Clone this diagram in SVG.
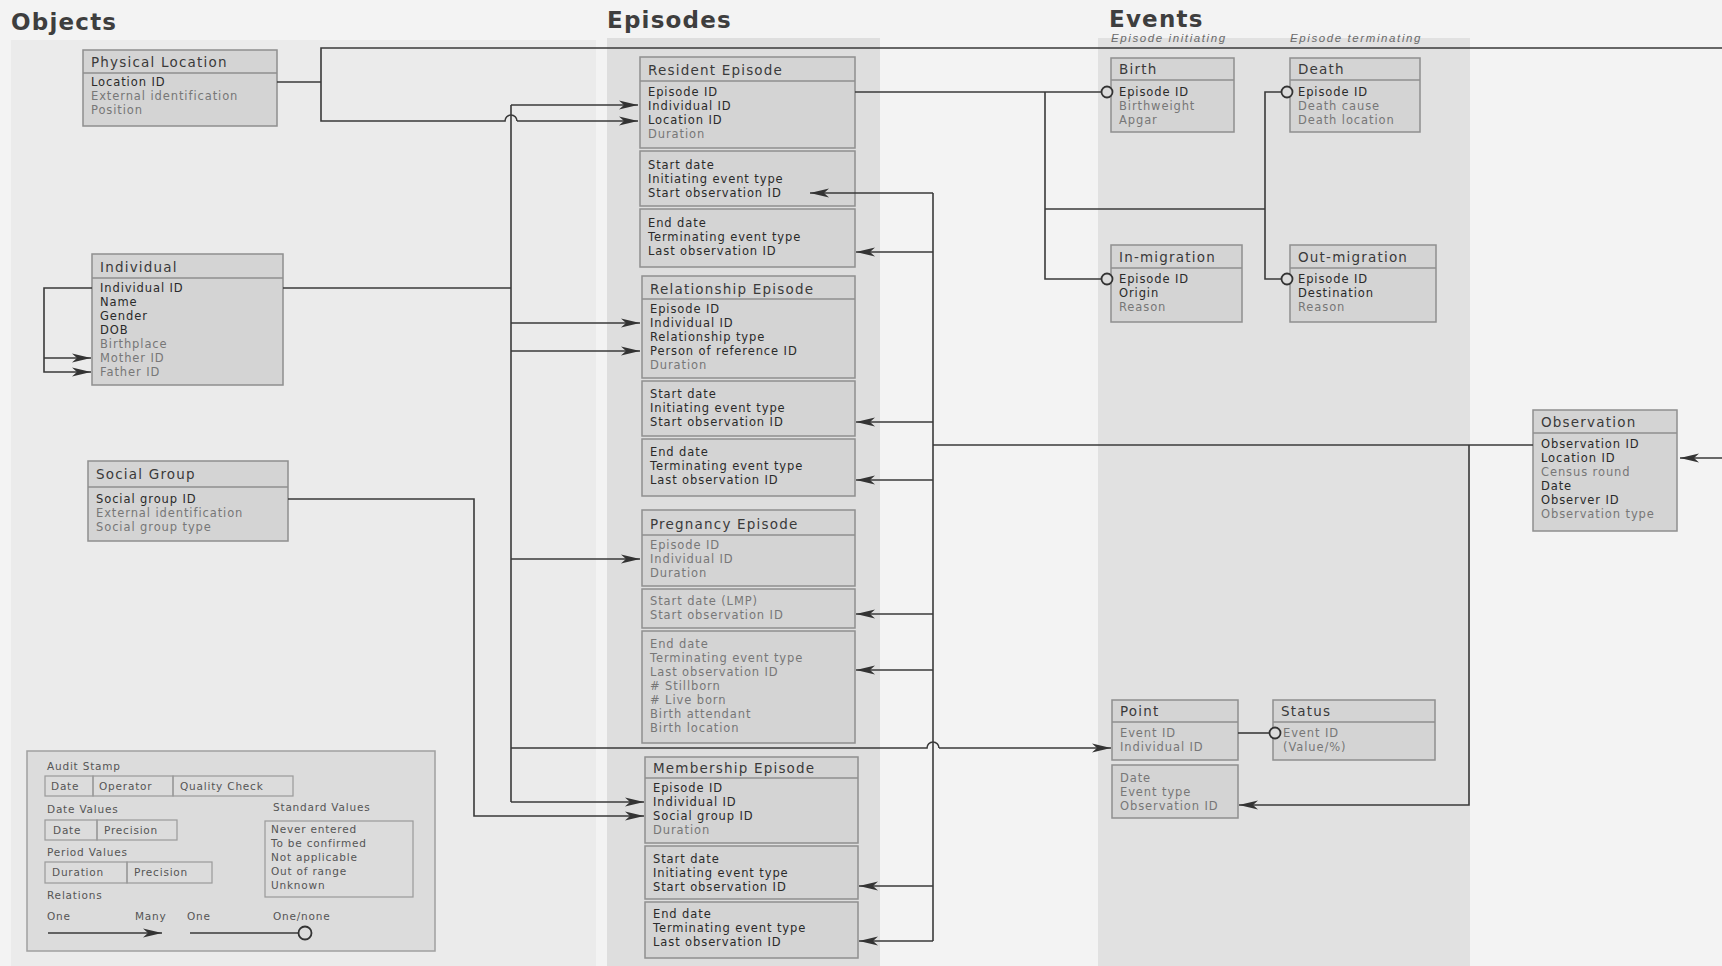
<svg xmlns="http://www.w3.org/2000/svg" width="1722" height="966" viewBox="0 0 1722 966">
<defs>
<marker id="arr" markerUnits="userSpaceOnUse" markerWidth="20" markerHeight="12" refX="19" refY="6" orient="auto">
<path d="M0,1.5 L19,6 L0,10.5 L5,6 z" fill="#333"/>
</marker>
<style>
text{font-family:"DejaVu Sans","Liberation Sans",sans-serif}
.ttl{font-size:23px;font-weight:bold;fill:#3e3e3e;letter-spacing:1.2px}
.sub{font-family:"Liberation Sans",sans-serif;font-size:11.5px;font-style:italic;fill:#6a6a6a;letter-spacing:1.6px}
.box{fill:#d4d4d4;stroke:#8f8f8f;stroke-width:1.5}
.div{stroke:#8f8f8f;stroke-width:1.5}
.hd{font-size:13.5px;fill:#3a3a3a;letter-spacing:1.2px}
.k{font-size:11.5px;fill:#2a2a2a;letter-spacing:0.9px}
.a{font-size:11.5px;fill:#777;letter-spacing:0.9px}
.lg{font-size:10.5px;fill:#555;letter-spacing:0.8px}
.lb{fill:none;stroke:#9a9a9a;stroke-width:1.2}
.ln{fill:none;stroke:#3a3a3a;stroke-width:1.6}
.ar{fill:none;stroke:#3a3a3a;stroke-width:1.6;marker-end:url(#arr)}
.cir{fill:#dcdcdc;stroke:#333;stroke-width:1.8}
</style>
</defs>
<rect x="0" y="0" width="1722" height="966" fill="#f3f3f3"/>
<rect x="11" y="40" width="585" height="926" fill="#ebebeb"/>
<rect x="607" y="38" width="273" height="928" fill="#dedede"/>
<rect x="1098" y="38" width="372" height="928" fill="#e1e1e1"/>

<g id="titles">
<text class="ttl" x="11" y="30">Objects</text>
<text class="ttl" x="607" y="28">Episodes</text>
<text class="ttl" x="1109" y="27">Events</text>
<text class="sub" x="1111" y="42">Episode initiating</text>
<text class="sub" x="1290" y="42">Episode terminating</text>
</g>

<g id="n-physloc">
<rect class="box" x="83" y="50" width="194" height="76"/>
<line class="div" x1="83" y1="73" x2="277" y2="73"/>
<text class="hd" x="91" y="67">Physical Location</text>
<text class="k" x="91" y="86">Location ID</text>
<text class="a" x="91" y="100">External identification</text>
<text class="a" x="91" y="114">Position</text>
</g>

<g id="n-individual">
<rect class="box" x="92" y="254" width="191" height="131"/>
<line class="div" x1="92" y1="278" x2="283" y2="278"/>
<text class="hd" x="100" y="272">Individual</text>
<text class="k" x="100" y="292">Individual ID</text>
<text class="k" x="100" y="306">Name</text>
<text class="k" x="100" y="320">Gender</text>
<text class="k" x="100" y="334">DOB</text>
<text class="a" x="100" y="348">Birthplace</text>
<text class="a" x="100" y="362">Mother ID</text>
<text class="a" x="100" y="376">Father ID</text>
</g>

<g id="n-social">
<rect class="box" x="88" y="461" width="200" height="80"/>
<line class="div" x1="88" y1="487" x2="288" y2="487"/>
<text class="hd" x="96" y="479">Social Group</text>
<text class="k" x="96" y="503">Social group ID</text>
<text class="a" x="96" y="517">External identification</text>
<text class="a" x="96" y="531">Social group type</text>
</g>

<g id="n-legend">
<rect x="27" y="751" width="408" height="200" fill="#dcdcdc" stroke="#a0a0a0" stroke-width="1.5"/>
<text class="lg" x="47" y="770">Audit Stamp</text>
<rect class="lb" x="45" y="776" width="48" height="20"/>
<rect class="lb" x="93" y="776" width="80" height="20"/>
<rect class="lb" x="173" y="776" width="120" height="20"/>
<text class="lg" x="51" y="790">Date</text>
<text class="lg" x="99" y="790">Operator</text>
<text class="lg" x="180" y="790">Quality Check</text>
<text class="lg" x="47" y="813">Date Values</text>
<rect class="lb" x="45" y="820" width="52" height="20"/>
<rect class="lb" x="97" y="820" width="80" height="20"/>
<text class="lg" x="53" y="834">Date</text>
<text class="lg" x="104" y="834">Precision</text>
<text class="lg" x="47" y="856">Period Values</text>
<rect class="lb" x="45" y="862" width="82" height="21"/>
<rect class="lb" x="127" y="862" width="85" height="21"/>
<text class="lg" x="52" y="876">Duration</text>
<text class="lg" x="134" y="876">Precision</text>
<text class="lg" x="47" y="899">Relations</text>
<text class="lg" x="47" y="920">One</text>
<text class="lg" x="135" y="920">Many</text>
<text class="lg" x="187" y="920">One</text>
<text class="lg" x="273" y="920">One/none</text>
<path class="ar" d="M48,933 H162"/>
<path class="ln" d="M190,933 H299"/>
<circle class="cir" cx="305" cy="933" r="6.5"/>
<text class="lg" x="273" y="811">Standard Values</text>
<rect class="lb" x="265" y="821" width="148" height="76"/>
<text class="lg" x="271" y="833">Never entered</text>
<text class="lg" x="271" y="847">To be confirmed</text>
<text class="lg" x="271" y="861">Not applicable</text>
<text class="lg" x="271" y="875">Out of range</text>
<text class="lg" x="271" y="889">Unknown</text>
</g>

<g id="n-resident">
<rect class="box" x="640" y="57" width="215" height="91"/>
<line class="div" x1="640" y1="81" x2="855" y2="81"/>
<text class="hd" x="648" y="75">Resident Episode</text>
<text class="k" x="648" y="96">Episode ID</text>
<text class="k" x="648" y="110">Individual ID</text>
<text class="k" x="648" y="124">Location ID</text>
<text class="a" x="648" y="138">Duration</text>
<rect class="box" x="640" y="151" width="215" height="55"/>
<text class="k" x="648" y="169">Start date</text>
<text class="k" x="648" y="183">Initiating event type</text>
<text class="k" x="648" y="197">Start observation ID</text>
<rect class="box" x="640" y="209" width="215" height="58"/>
<text class="k" x="648" y="227">End date</text>
<text class="k" x="648" y="241">Terminating event type</text>
<text class="k" x="648" y="255">Last observation ID</text>
</g>

<g id="n-relationship">
<rect class="box" x="642" y="276" width="213" height="102"/>
<line class="div" x1="642" y1="299" x2="855" y2="299"/>
<text class="hd" x="650" y="294">Relationship Episode</text>
<text class="k" x="650" y="313">Episode ID</text>
<text class="k" x="650" y="327">Individual ID</text>
<text class="k" x="650" y="341">Relationship type</text>
<text class="k" x="650" y="355">Person of reference ID</text>
<text class="a" x="650" y="369">Duration</text>
<rect class="box" x="642" y="381" width="213" height="55"/>
<text class="k" x="650" y="398">Start date</text>
<text class="k" x="650" y="412">Initiating event type</text>
<text class="k" x="650" y="426">Start observation ID</text>
<rect class="box" x="642" y="439" width="213" height="57"/>
<text class="k" x="650" y="456">End date</text>
<text class="k" x="650" y="470">Terminating event type</text>
<text class="k" x="650" y="484">Last observation ID</text>
</g>

<g id="n-pregnancy">
<rect class="box" x="642" y="510" width="213" height="76"/>
<line class="div" x1="642" y1="535" x2="855" y2="535"/>
<text class="hd" x="650" y="529">Pregnancy Episode</text>
<text class="a" x="650" y="549">Episode ID</text>
<text class="a" x="650" y="563">Individual ID</text>
<text class="a" x="650" y="577">Duration</text>
<rect class="box" x="642" y="589" width="213" height="39"/>
<text class="a" x="650" y="605">Start date (LMP)</text>
<text class="a" x="650" y="619">Start observation ID</text>
<rect class="box" x="642" y="631" width="213" height="112"/>
<text class="a" x="650" y="648">End date</text>
<text class="a" x="650" y="662">Terminating event type</text>
<text class="a" x="650" y="676">Last observation ID</text>
<text class="a" x="650" y="690"># Stillborn</text>
<text class="a" x="650" y="704"># Live born</text>
<text class="a" x="650" y="718">Birth attendant</text>
<text class="a" x="650" y="732">Birth location</text>
</g>

<g id="n-membership">
<rect class="box" x="645" y="757" width="213" height="86"/>
<line class="div" x1="645" y1="778" x2="858" y2="778"/>
<text class="hd" x="653" y="773">Membership Episode</text>
<text class="k" x="653" y="792">Episode ID</text>
<text class="k" x="653" y="806">Individual ID</text>
<text class="k" x="653" y="820">Social group ID</text>
<text class="a" x="653" y="834">Duration</text>
<rect class="box" x="645" y="846" width="213" height="53"/>
<text class="k" x="653" y="863">Start date</text>
<text class="k" x="653" y="877">Initiating event type</text>
<text class="k" x="653" y="891">Start observation ID</text>
<rect class="box" x="645" y="902" width="213" height="56"/>
<text class="k" x="653" y="918">End date</text>
<text class="k" x="653" y="932">Terminating event type</text>
<text class="k" x="653" y="946">Last observation ID</text>
</g>

<g id="n-birth">
<rect class="box" x="1111" y="58" width="123" height="74"/>
<line class="div" x1="1111" y1="80" x2="1234" y2="80"/>
<text class="hd" x="1119" y="74">Birth</text>
<text class="k" x="1119" y="96">Episode ID</text>
<text class="a" x="1119" y="110">Birthweight</text>
<text class="a" x="1119" y="124">Apgar</text>
<circle class="cir" cx="1107" cy="92" r="5.5"/>
</g>

<g id="n-death">
<rect class="box" x="1290" y="58" width="130" height="74"/>
<line class="div" x1="1290" y1="80" x2="1420" y2="80"/>
<text class="hd" x="1298" y="74">Death</text>
<text class="k" x="1298" y="96">Episode ID</text>
<text class="a" x="1298" y="110">Death cause</text>
<text class="a" x="1298" y="124">Death location</text>
<circle class="cir" cx="1287" cy="92" r="5.5"/>
</g>

<g id="n-inmig">
<rect class="box" x="1111" y="245" width="131" height="77"/>
<line class="div" x1="1111" y1="268" x2="1242" y2="268"/>
<text class="hd" x="1119" y="262">In-migration</text>
<text class="k" x="1119" y="283">Episode ID</text>
<text class="k" x="1119" y="297">Origin</text>
<text class="a" x="1119" y="311">Reason</text>
<circle class="cir" cx="1107" cy="279" r="5.5"/>
</g>

<g id="n-outmig">
<rect class="box" x="1290" y="245" width="146" height="77"/>
<line class="div" x1="1290" y1="268" x2="1436" y2="268"/>
<text class="hd" x="1298" y="262">Out-migration</text>
<text class="k" x="1298" y="283">Episode ID</text>
<text class="k" x="1298" y="297">Destination</text>
<text class="a" x="1298" y="311">Reason</text>
<circle class="cir" cx="1287" cy="279" r="5.5"/>
</g>

<g id="n-observation">
<rect class="box" x="1533" y="410" width="144" height="121"/>
<line class="div" x1="1533" y1="433" x2="1677" y2="433"/>
<text class="hd" x="1541" y="427">Observation</text>
<text class="k" x="1541" y="448">Observation ID</text>
<text class="k" x="1541" y="462">Location ID</text>
<text class="a" x="1541" y="476">Census round</text>
<text class="k" x="1541" y="490">Date</text>
<text class="k" x="1541" y="504">Observer ID</text>
<text class="a" x="1541" y="518">Observation type</text>
</g>

<g id="n-point">
<rect class="box" x="1112" y="700" width="126" height="60"/>
<line class="div" x1="1112" y1="722" x2="1238" y2="722"/>
<text class="hd" x="1120" y="716">Point</text>
<text class="a" x="1120" y="737">Event ID</text>
<text class="a" x="1120" y="751">Individual ID</text>
<rect class="box" x="1112" y="765" width="126" height="53"/>
<text class="a" x="1120" y="782">Date</text>
<text class="a" x="1120" y="796">Event type</text>
<text class="a" x="1120" y="810">Observation ID</text>
</g>

<g id="n-status">
<rect class="box" x="1273" y="700" width="162" height="60"/>
<line class="div" x1="1273" y1="722" x2="1435" y2="722"/>
<text class="hd" x="1281" y="716">Status</text>
<text class="a" x="1283" y="737">Event ID</text>
<text class="a" x="1283" y="751">(Value/%)</text>
<circle class="cir" cx="1275" cy="733" r="5.5"/>
</g>

<g id="connectors">
<path class="ln" d="M277,82 H321"/>
<path class="ln" d="M1722,48 H321 V121 H505 a6,6 0 0 1 12,0"/>
<path class="ar" d="M517,121 H638"/>
<path class="ar" d="M1722,458 H1680"/>
<path class="ar" d="M92,288 H44 V372 H91"/>
<path class="ar" d="M44,358 H91"/>
<path class="ln" d="M283,288 H511"/>
<path class="ln" d="M511,105 V802"/>
<path class="ar" d="M511,105 H638"/>
<path class="ar" d="M511,323 H640"/>
<path class="ar" d="M511,351 H640"/>
<path class="ar" d="M511,559 H640"/>
<path class="ar" d="M511,802 H644"/>
<path class="ln" d="M511,748 H927 a6,6 0 0 1 12,0"/>
<path class="ar" d="M939,748 H1111"/>
<path class="ar" d="M288,499 H474 V816 H644"/>
<path class="ln" d="M933,193 V941"/>
<path class="ln" d="M1533,445 H933"/>
<path class="ar" d="M933,193 H810"/>
<path class="ar" d="M933,252 H856"/>
<path class="ar" d="M933,422 H856"/>
<path class="ar" d="M933,480 H856"/>
<path class="ar" d="M933,614 H856"/>
<path class="ar" d="M933,670 H856"/>
<path class="ar" d="M933,886 H859"/>
<path class="ar" d="M933,941 H859"/>
<path class="ar" d="M1469,445 V805 H1239"/>
<path class="ln" d="M855,92 H1101"/>
<path class="ln" d="M1045,92 V279 H1101"/>
<path class="ln" d="M1045,209 H1265"/>
<path class="ln" d="M1281,92 H1265 V279 H1281"/>
<path class="ln" d="M1238,733 H1269"/>
</g>
</svg>
